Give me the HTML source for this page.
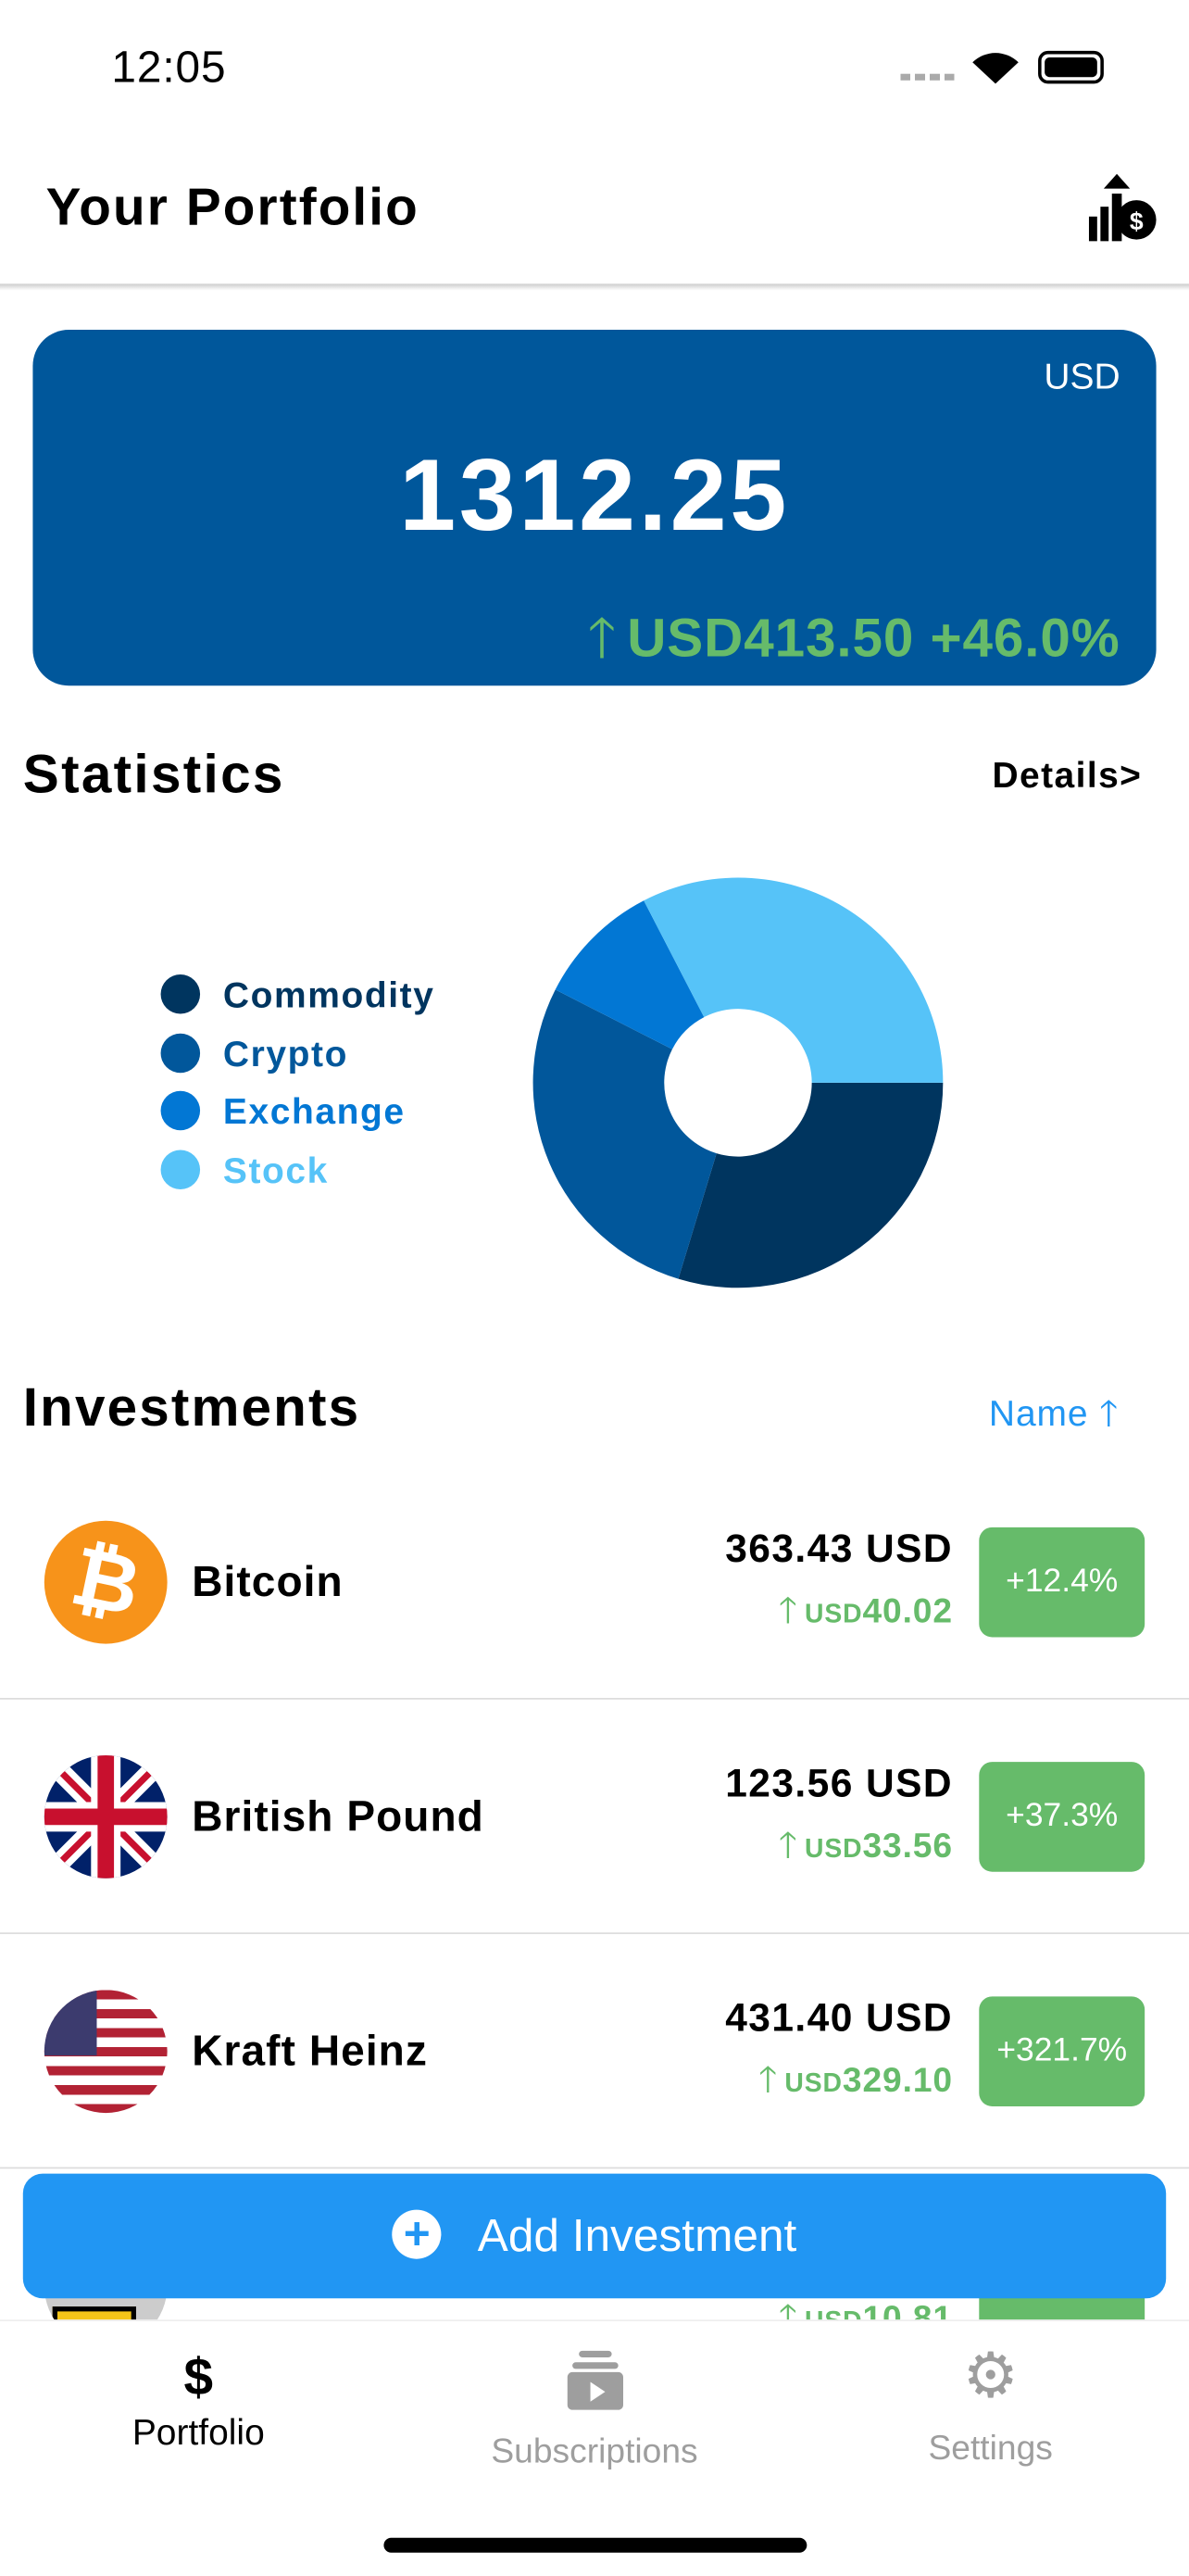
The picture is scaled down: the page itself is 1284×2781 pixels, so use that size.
<!DOCTYPE html>
<html><head><meta charset="utf-8"><style>
html,body{margin:0;padding:0;background:#fff;width:1284px;height:2778px;overflow:hidden}
#s{position:absolute;left:0;top:0;width:725px;height:1569px;transform:scale(1.77103);transform-origin:0 0;font-family:"Liberation Sans",sans-serif;color:#000}
.a{position:absolute}
.row{position:absolute;left:0;width:725px;height:142px;border-bottom:1px solid #ddd}
.ico{position:absolute;left:27px;top:34px;width:75px;height:75px;border-radius:50%;overflow:hidden}
.nm{position:absolute;left:117px;top:56px;font-size:26px;font-weight:bold;letter-spacing:0.6px}
.val{position:absolute;right:144px;top:38px;font-size:24px;font-weight:bold;letter-spacing:0.8px}
.chg{position:absolute;right:144px;top:72px;font-size:21px;font-weight:bold;color:#66bb6a;letter-spacing:0.5px}
.chg small{font-size:16px}
.chg b{font-size:22px;font-weight:normal;margin-right:4px}
.pct{position:absolute;left:597px;top:38px;width:101px;height:67px;background:#66bb6a;border-radius:8px;color:#fff;font-size:20px;text-align:center;line-height:67px}
</style></head><body>
<div id="s">
<div class="a" style="left:68px;top:26px;font-size:27px;letter-spacing:0.5px">12:05</div>
<div class="a" style="left:549px;top:45px;width:34px;height:4px;background:repeating-linear-gradient(90deg,#aaa 0 6px,transparent 6px 9px)"></div>
<svg class="a" style="left:592px;top:30px" width="30" height="22"><path d="M15 21 L1 8 A20 20 0 0 1 29 8 Z" fill="#000"/></svg>
<div class="a" style="left:633px;top:31px;width:40px;height:20px;border:2px solid #000;border-radius:6px;box-sizing:border-box;padding:2px"><div style="background:#000;height:100%;border-radius:3px"></div></div>
<div class="a" style="left:28px;top:108px;font-size:32px;font-weight:bold;letter-spacing:1.2px">Your Portfolio</div>
<svg class="a" style="left:660px;top:104px" width="46" height="46"><rect x="4" y="28" width="5" height="15" fill="#000"/><rect x="11" y="22" width="5" height="21" fill="#000"/><rect x="18" y="14" width="6" height="29" fill="#000"/><path d="M21 2 L13 11 L29 11 Z" fill="#000"/><circle cx="33" cy="30" r="12" fill="#000"/><text x="33" y="36" font-size="15" font-weight="bold" fill="#fff" text-anchor="middle" font-family="Liberation Sans">$</text></svg>
<div class="a" style="left:0;top:173px;width:725px;height:4px;background:linear-gradient(#ccc,#fff)"></div>
<div class="a" style="left:20px;top:201px;width:685px;height:217px;background:#00579b;border-radius:22px">
<div class="a" style="right:22px;top:16px;color:#fff;font-size:22px">USD</div>
<div class="a" style="left:0;width:685px;text-align:center;top:66px;color:#fff;font-size:62px;font-weight:bold;letter-spacing:2px">1312.25</div>
<div class="a" style="right:22px;top:164px;color:#66bb6a;font-size:33px;font-weight:bold;letter-spacing:0.5px"><span style="font-weight:normal;font-size:34px;margin-right:6px">🡑</span>USD413.50 +46.0%</div>
</div>
<div class="a" style="left:14px;top:453px;font-size:33px;font-weight:bold;letter-spacing:1.3px">Statistics</div>
<div class="a" style="left:605px;top:460px;font-size:22px;font-weight:bold;letter-spacing:0.8px">Details&gt;</div>
<div id="legend"></div>
<svg id="pie" class="a" style="left:0;top:500px" width="725" height="320"></svg>
<div class="a" style="left:14px;top:839px;font-size:33px;font-weight:bold;letter-spacing:1.2px">Investments</div>
<div class="a" style="left:603px;top:845px;font-size:22px;color:#2196f3;letter-spacing:0.5px">Name 🡑</div>
<div class="row" style="top:893px">
<div class="ico" style="background:#f7931a"><div style="color:#fff;font-size:50px;font-weight:bold;text-align:center;line-height:75px;transform:rotate(12deg)">₿</div></div>
<div class="nm">Bitcoin</div>
<div class="val">363.43 USD</div>
<div class="chg"><b>🡑</b><small>USD</small>40.02</div>
<div class="pct">+12.4%</div></div>
<div class="row" style="top:1036px">
<div class="ico" style="background:#012169"><svg width="75" height="75"><path d="M0 0L75 75M75 0L0 75" stroke="#fff" stroke-width="12"/><path d="M0 0L75 75M75 0L0 75" stroke="#c8102e" stroke-width="4"/><path d="M37.5 0V75M0 37.5H75" stroke="#fff" stroke-width="18"/><path d="M37.5 0V75M0 37.5H75" stroke="#c8102e" stroke-width="10"/></svg></div>
<div class="nm">British Pound</div>
<div class="val">123.56 USD</div>
<div class="chg"><b>🡑</b><small>USD</small>33.56</div>
<div class="pct">+37.3%</div></div>
<div class="row" style="top:1179px">
<div class="ico" style="background:repeating-linear-gradient(#b22234 0 5.8px,#fff 5.8px 11.6px)"><div style="width:32px;height:40px;background:#3c3b6e"></div></div>
<div class="nm">Kraft Heinz</div>
<div class="val">431.40 USD</div>
<div class="chg"><b>🡑</b><small>USD</small>329.10</div>
<div class="pct">+321.7%</div></div>
<div class="row" style="top:1322px;border:none">
<div class="ico" style="background:#ccc"><div style="position:absolute;left:5px;top:50px;width:45px;height:25px;background:#f5c518;border:3px solid #000"></div></div>
<div class="chg" style="top:74px"><b>🡑</b><small>USD</small>10.81</div>
<div class="pct"></div></div>
<div class="a" style="left:14px;top:1325px;width:697px;height:76px;background:#2196f3;border-radius:12px;color:#fff;font-size:28px;text-align:center;line-height:76px"><span style="display:inline-block;width:30px;height:30px;border-radius:50%;background:#fff;color:#2196f3;line-height:30px;font-size:28px;font-weight:bold;vertical-align:middle;margin:-5px 22px 0 0">+</span>Add Investment</div>
<div class="a" style="left:0;top:1414px;width:725px;height:155px;background:#fff;border-top:1px solid #eee">
<div class="a" style="left:0;width:242px;top:16px;text-align:center"><div style="font-size:32px;font-weight:bold">$</div><div style="font-size:22px;margin-top:2px">Portfolio</div></div>
<div class="a" style="left:242px;width:241px;top:18px;text-align:center;color:#9e9e9e"><div style="margin:0 auto;width:34px;height:36px;position:relative"><div style="position:absolute;left:7px;top:0;width:20px;height:4px;background:#9e9e9e;border-radius:2px"></div><div style="position:absolute;left:3px;top:7px;width:28px;height:4px;background:#9e9e9e;border-radius:2px"></div><div style="position:absolute;left:0;top:13px;width:34px;height:23px;background:#9e9e9e;border-radius:3px"></div><div style="position:absolute;left:14px;top:19px;border-left:9px solid #fff;border-top:6px solid transparent;border-bottom:6px solid transparent"></div></div><div style="font-size:21px;margin-top:14px">Subscriptions</div></div>
<div class="a" style="left:483px;width:242px;top:14px;text-align:center;color:#9e9e9e"><div style="font-size:38px;line-height:40px">⚙</div><div style="font-size:21px;margin-top:12px">Settings</div></div>
<div class="a" style="left:234px;top:132px;width:258px;height:9px;background:#000;border-radius:5px"></div>
</div>
</div>
<script>
const categories=["Commodity","Crypto","Exchange","Stock"];
const values=[29.7,27.8,9.9,32.6];
const colors=["#00355f","#01579b","#0277d4","#56c3f8"];
const svg=document.getElementById('pie');
const cx=450,cy=160,R=125,r=45;
const total=values.reduce((a,b)=>a+b,0);
function ang(v){return v/total*2*Math.PI;}
function pt(a,rad){return [cx+rad*Math.cos(a),cy+rad*Math.sin(a)];}
let a0=0;
values.forEach((v,i)=>{
 const a1=a0+ang(v);const lg=(a1-a0)>Math.PI?1:0;
 const p1=pt(a0,R),p2=pt(a1,R),p3=pt(a1,r),p4=pt(a0,r);
 const p=document.createElementNS("http://www.w3.org/2000/svg","path");
 p.setAttribute('d',`M${p1}A${R} ${R} 0 ${lg} 1 ${p2}L${p3}A${r} ${r} 0 ${lg} 0 ${p4}Z`);
 p.setAttribute('fill',colors[i]);
 
 
 svg.appendChild(p);a0=a1;
});
const lg=document.getElementById('legend');
categories.forEach((c,i)=>{
 const d=document.createElement('div');
 d.className='a';d.style.left='98px';d.style.top=(594+i*35.5)+'px';
 d.style.color=colors[i];d.style.fontSize='22px';d.style.fontWeight='bold';d.style.letterSpacing='0.9px';
 d.innerHTML=`<span style="display:inline-block;width:24px;height:24px;border-radius:50%;background:${colors[i]};vertical-align:middle;margin:-4px 14px 0 0"></span>${c}`;
 
 
 lg.appendChild(d);
});
</script>
</body></html>
